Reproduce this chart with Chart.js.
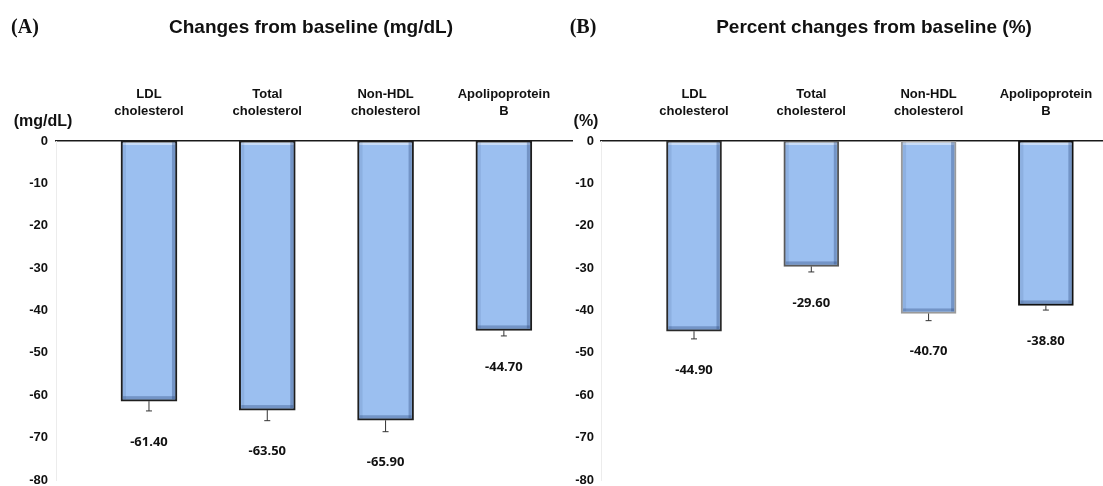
<!DOCTYPE html>
<html>
<head>
<meta charset="utf-8">
<script src="https://cdn.jsdelivr.net/npm/chart.js@4.4.0/dist/chart.umd.min.js"></script>
<style>
    body { margin: 0; width: 1103px; height: 486px; overflow: hidden; background: #fff; position: relative;
           font-family: "Liberation Sans", Arial, sans-serif; }
    .panel { position: absolute; top: 0; height: 486px; }
    #panelA { left: 0; width: 575px; }
    #panelB { left: 575px; width: 528px; }
    .txt { position: absolute; transform: translate(-50%, -50%); white-space: nowrap; color: #111; font-weight: bold; }
    .letter { font-family: "Liberation Serif", "Times New Roman", serif; font-size: 20px; }
    .title { font-size: 19px; }
    .unit { font-size: 16px; }
</style>
</head>
<body>
<div class="panel" id="panelA"><canvas id="chartA"></canvas></div>
<div class="panel" id="panelB"><canvas id="chartB"></canvas></div>

<div class="txt letter" style="left:25px; top:26px">(A)</div>
<div class="txt title" style="left:311px; top:27px">Changes from baseline (mg/dL)</div>
<div class="txt unit" style="left:43px; top:121px">(mg/dL)</div>

<div class="txt letter" style="left:583px; top:26px">(B)</div>
<div class="txt title" style="left:874px; top:27px">Percent changes from baseline (%)</div>
<div class="txt unit" style="left:586px; top:121px">(%)</div>

<script>
// --- DADOS ---
const categories = [['LDL', 'cholesterol'], ['Total', 'cholesterol'], ['Non-HDL', 'cholesterol'], ['Apolipoprotein', 'B']];
const changesMgdl = [-61.4, -63.5, -65.9, -44.7];
const errorsMgdl = [2.3, 2.5, 2.7, 1.3];
const changesPercent = [-44.9, -29.6, -40.7, -38.8];
const errorsPercent = [1.8, 1.3, 1.7, 1.1];
const yMin = -80, yMax = 0, yStep = 10;

Chart.defaults.font.family = '"Liberation Sans", Arial, sans-serif';
Chart.defaults.color = '#111';

/**
 * Bevel nas barras, barras de erro e rótulos de valor.
 */
const barExtras = {
    id: 'barExtras',
    afterDatasetsDraw(chart) {
        const ctx = chart.ctx;
        const yScale = chart.scales.y;
        const ds = chart.data.datasets[0];
        chart.getDatasetMeta(0).data.forEach((bar, i) => {
            const { x, y, base, width } = bar.getProps(['x', 'y', 'base', 'width'], true);
            const left = x - width / 2 + 2, right = x + width / 2 - 2;
            const top = Math.min(y, base) + 1, bottom = Math.max(y, base) - 2;
            const value = ds.data[i].y;

            ctx.save();
            ctx.fillStyle = 'rgba(255,255,255,0.45)';
            ctx.fillRect(left, top, right - left, 3);
            ctx.fillStyle = 'rgba(40,70,120,0.35)';
            ctx.fillRect(right - 3, top, 3, bottom - top);
            ctx.fillRect(left, bottom - 3, right - left, 3);
            ctx.fillStyle = 'rgba(40,70,120,0.12)';
            ctx.fillRect(left, top, 3, bottom - top);

            const yEnd = yScale.getPixelForValue(value - ds.errors[i]);
            ctx.strokeStyle = '#333';
            ctx.lineWidth = 1;
            ctx.beginPath();
            ctx.moveTo(x, Math.max(y, base));
            ctx.lineTo(x, yEnd);
            ctx.moveTo(x - 3, yEnd);
            ctx.lineTo(x + 3, yEnd);
            ctx.stroke();

            ctx.fillStyle = '#111';
            ctx.font = 'bold 13px "Noto Sans", sans-serif';
            ctx.textAlign = 'center';
            ctx.textBaseline = 'middle';
            ctx.fillText(value.toFixed(2), x, yEnd + 31);
            ctx.restore();
        });
    }
};

function buildPanel(canvasId, values, errors, cfg) {
    const ctx = document.getElementById(canvasId).getContext('2d');
    return new Chart(ctx, {
        type: 'bar',
        data: {
            datasets: [{
                data: values.map((v, i) => ({ x: i + 1, y: v })),
                errors: errors,
                backgroundColor: '#9bbff0',
                borderColor: cfg.borders,
                borderWidth: 2,
                borderSkipped: false,
                barThickness: cfg.barWidth
            }]
        },
        options: {
            responsive: true,
            maintainAspectRatio: false,
            animation: false,
            layout: { padding: { left: 0, right: cfg.padRight, top: 0, bottom: 0 } },
            plugins: { legend: { display: false }, tooltip: { enabled: false } },
            scales: {
                x: {
                    type: 'linear',
                    position: 'top',
                    offset: false,
                    min: cfg.xMin,
                    max: cfg.xMax,
                    afterBuildTicks(scale) { scale.ticks = categories.map((c, i) => ({ value: i + 1 })); },
                    ticks: {
                        callback: (v, i) => categories[i],
                        padding: 21, autoSkip: false, maxRotation: 0, minRotation: 0,
                        font: { size: 13, weight: 'bold', lineHeight: 1.3 }
                    },
                    grid: { display: false, drawTicks: false },
                    border: { display: true, color: '#1a1a1a', width: 1.5 },
                    afterFit(scale) { scale.height = 141; scale.paddingLeft = 0; scale.paddingRight = 0; }
                },
                y: {
                    min: yMin,
                    max: yMax,
                    ticks: { stepSize: yStep, padding: cfg.tickPad, font: { size: 13, weight: 'bold' } },
                    grid: { display: false, drawTicks: false },
                    border: { display: true, color: '#ececec', width: 1 },
                    afterFit(scale) { scale.width = cfg.axisWidth; scale.paddingTop = 0; scale.paddingBottom = 6; }
                }
            }
        },
        plugins: [barExtras]
    });
}

buildPanel('chartA', changesMgdl, errorsMgdl, {
    axisWidth: 56, tickPad: 8, padRight: 3, barWidth: 56,
    xMin: 0.214, xMax: 4.576,
    borders: ['#1e1e1e', '#1e1e1e', '#1e1e1e', '#1e1e1e']
});

buildPanel('chartB', changesPercent, errorsPercent, {
    axisWidth: 26, tickPad: 7, padRight: 0, barWidth: 55,
    xMin: 0.207, xMax: 4.487,
    borders: ['#2a2a2a', '#5a5a5a', '#9a9a9a', '#111111']
});
</script>
</body>
</html>
